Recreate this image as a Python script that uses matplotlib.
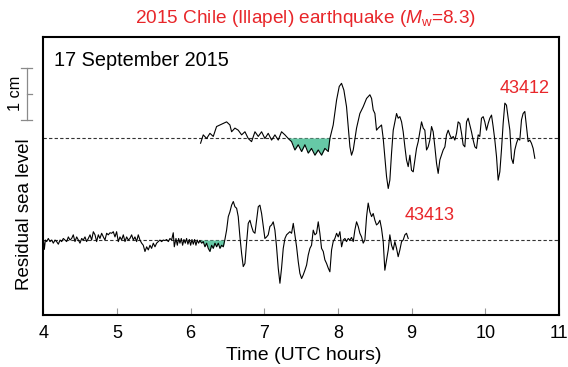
import numpy as np
import matplotlib
matplotlib.use('Agg')
import matplotlib.pyplot as plt
import matplotlib.transforms as mtransforms

plt.rcParams['font.family'] = ['Liberation Sans', 'DejaVu Sans']
plt.rcParams['mathtext.fontset'] = 'custom'
plt.rcParams['mathtext.rm'] = 'Liberation Sans'
plt.rcParams['mathtext.it'] = 'Liberation Sans:italic'

# residual sea level (cm) at DART 43412, hours UTC
top_time = [6.135, 6.171, 6.217, 6.262, 6.307, 6.352, 6.398, 6.443, 6.488, 6.533,
            6.556, 6.601, 6.646, 6.692, 6.737, 6.782, 6.827, 6.873, 6.918, 6.963,
            7.008, 7.053, 7.099, 7.144, 7.189, 7.234, 7.280, 7.325, 7.370, 7.415,
            7.460, 7.506, 7.551, 7.596, 7.641, 7.687, 7.732, 7.777, 7.822, 7.868,
            7.890, 7.935, 7.981, 8.017, 8.048, 8.080, 8.116, 8.139, 8.162, 8.184,
            8.207, 8.252, 8.297, 8.342, 8.388, 8.433, 8.456, 8.478, 8.501, 8.523,
            8.546, 8.569, 8.591, 8.614, 8.636, 8.659, 8.682, 8.704, 8.727, 8.750,
            8.772, 8.795, 8.817, 8.840, 8.863, 8.885, 8.908, 8.930, 8.953, 8.976,
            8.998, 9.021, 9.044, 9.066, 9.089, 9.111, 9.134, 9.157, 9.179, 9.202,
            9.224, 9.247, 9.270, 9.292, 9.315, 9.338, 9.360, 9.383, 9.405, 9.428,
            9.451, 9.473, 9.496, 9.518, 9.541, 9.564, 9.586, 9.609, 9.631, 9.654,
            9.677, 9.699, 9.722, 9.745, 9.767, 9.790, 9.812, 9.835, 9.858, 9.880,
            9.903, 9.925, 9.948, 9.971, 9.993, 10.016, 10.039, 10.061, 10.084, 10.106,
            10.129, 10.152, 10.174, 10.197, 10.219, 10.242, 10.265, 10.287, 10.310, 10.333,
            10.355, 10.378, 10.400, 10.423, 10.446, 10.468, 10.491, 10.513, 10.536, 10.559,
            10.581, 10.604, 10.626, 10.649, 10.672]
top_level = [-0.10, 0.06, -0.01, 0.09, 0.03, 0.22, 0.25, 0.28, 0.31, 0.25,
             0.12, 0.19, 0.15, 0.06, 0.12, -0.01, -0.07, 0.12, 0.03, 0.12,
             -0.01, 0.09, -0.04, 0.06, -0.04, 0.12, 0.06, -0.01, -0.07, -0.23,
             -0.13, -0.26, -0.13, -0.29, -0.20, -0.33, -0.23, -0.33, -0.20, -0.26,
             -0.01, 0.25, 0.73, 0.99, 1.05, 0.92, 0.60, 0.22, -0.17, -0.33,
             -0.23, 0.19, 0.47, 0.60, 0.76, 0.83, 0.76, 0.54, 0.47, 0.15,
             0.19, 0.22, 0.25, -0.01, -0.36, -0.74, -0.97, -0.81, -0.29, 0.15,
             0.31, 0.47, 0.38, 0.41, 0.31, 0.12, -0.17, -0.42, -0.55, -0.33,
             -0.62, -0.65, -0.42, -0.20, -0.07, 0.12, 0.31, 0.19, 0.15, -0.23,
             -0.17, -0.04, 0.22, 0.12, -0.17, -0.49, -0.68, -0.42, -0.33, -0.23,
             -0.17, 0.06, 0.15, 0.06, -0.01, 0.03, -0.04, 0.09, 0.31, 0.28,
             0.09, -0.13, -0.17, 0.31, 0.38, 0.25, 0.12, -0.04, -0.17, -0.20,
             0.06, 0.03, 0.38, 0.41, 0.31, 0.15, 0.28, 0.38, 0.44, 0.22,
             -0.04, -0.36, -0.81, -0.65, -0.23, 0.28, 0.67, 0.63, 0.38, 0.15,
             -0.39, -0.49, -0.23, -0.10, -0.01, -0.04, 0.35, 0.47, 0.51, 0.22,
             -0.07, -0.04, -0.10, -0.20, -0.39]

# residual sea level (cm) at DART 43413, hours UTC
bot_time = [4.000, 4.014, 4.028, 4.046, 4.068, 4.091, 4.114, 4.136, 4.159, 4.181,
            4.204, 4.227, 4.249, 4.272, 4.294, 4.317, 4.340, 4.362, 4.385, 4.407,
            4.430, 4.453, 4.475, 4.498, 4.521, 4.543, 4.566, 4.588, 4.611, 4.634,
            4.656, 4.679, 4.702, 4.724, 4.747, 4.769, 4.792, 4.815, 4.837, 4.860,
            4.882, 4.905, 4.928, 4.950, 4.973, 4.995, 5.018, 5.041, 5.063, 5.086,
            5.109, 5.131, 5.154, 5.176, 5.199, 5.222, 5.244, 5.267, 5.289, 5.312,
            5.335, 5.357, 5.380, 5.403, 5.425, 5.448, 5.470, 5.493, 5.516, 5.538,
            5.561, 5.583, 5.606, 5.629, 5.651, 5.674, 5.697, 5.719, 5.742, 5.764,
            5.778, 5.801, 5.819, 5.837, 5.855, 5.873, 5.891, 5.909, 5.927, 5.945,
            5.963, 5.982, 6.000, 6.018, 6.036, 6.054, 6.072, 6.090, 6.108, 6.126,
            6.149, 6.171, 6.194, 6.217, 6.239, 6.262, 6.285, 6.307, 6.330, 6.352,
            6.375, 6.398, 6.420, 6.443, 6.465, 6.488, 6.511, 6.533, 6.556, 6.579,
            6.601, 6.624, 6.646, 6.669, 6.692, 6.714, 6.737, 6.759, 6.782, 6.805,
            6.827, 6.850, 6.873, 6.895, 6.918, 6.940, 6.963, 6.986, 7.008, 7.031,
            7.053, 7.076, 7.099, 7.121, 7.144, 7.166, 7.189, 7.212, 7.234, 7.257,
            7.280, 7.302, 7.325, 7.347, 7.370, 7.393, 7.415, 7.438, 7.461, 7.483,
            7.506, 7.528, 7.551, 7.574, 7.596, 7.619, 7.641, 7.664, 7.687, 7.709,
            7.732, 7.754, 7.777, 7.800, 7.822, 7.845, 7.868, 7.890, 7.913, 7.935,
            7.958, 7.981, 8.003, 8.026, 8.049, 8.071, 8.094, 8.116, 8.139, 8.162,
            8.184, 8.207, 8.229, 8.252, 8.275, 8.297, 8.320, 8.342, 8.365, 8.388,
            8.410, 8.433, 8.456, 8.478, 8.501, 8.523, 8.546, 8.569, 8.591, 8.614,
            8.636, 8.659, 8.682, 8.704, 8.727, 8.749, 8.772, 8.795, 8.817, 8.840,
            8.863, 8.885, 8.908, 8.930, 8.953]
bot_level = [0.03, -0.18, 0.00, -0.03, 0.03, -0.03, 0.00, -0.06, 0.00, -0.03,
             -0.08, 0.00, -0.03, 0.03, 0.00, -0.03, 0.06, 0.00, 0.03, 0.10,
             -0.03, 0.06, 0.00, -0.06, 0.03, 0.00, 0.06, -0.03, 0.03, 0.10,
             0.00, 0.16, 0.10, -0.03, 0.10, 0.03, 0.13, 0.06, 0.00, 0.13,
             0.10, 0.14, 0.13, 0.16, 0.06, 0.16, -0.03, 0.06, 0.00, 0.10,
             -0.03, 0.06, 0.00, 0.03, 0.10, 0.00, 0.06, -0.03, 0.10, 0.00,
             -0.06, -0.10, -0.22, -0.13, -0.19, -0.10, -0.16, -0.06, -0.13, -0.06,
             -0.03, 0.00, -0.03, 0.00, -0.01, 0.01, -0.03, 0.03, 0.00, 0.14,
             -0.13, 0.03, -0.10, 0.03, -0.06, 0.03, -0.10, 0.01, -0.06, 0.03,
             -0.08, 0.01, -0.10, 0.01, -0.08, 0.01, -0.10, 0.00, -0.06, -0.01,
             -0.06, -0.03, -0.13, -0.06, -0.16, -0.22, -0.10, -0.16, -0.06, -0.13,
             -0.06, -0.16, -0.10, -0.13, 0.01, 0.19, 0.45, 0.54, 0.67, 0.74,
             0.64, 0.61, 0.45, 0.06, -0.26, -0.51, -0.45, -0.06, 0.32, 0.38,
             0.26, 0.16, 0.13, 0.38, 0.64, 0.67, 0.51, 0.26, 0.03, 0.06,
             0.10, 0.26, 0.29, 0.35, 0.19, -0.13, -0.54, -0.83, -0.54, -0.16,
             0.03, 0.10, 0.13, 0.16, 0.13, 0.32, 0.10, -0.13, -0.42, -0.64,
             -0.74, -0.67, -0.58, -0.48, -0.29, -0.16, -0.10, 0.19, 0.10, 0.13,
             0.35, 0.13, -0.16, -0.22, -0.38, -0.45, -0.54, -0.61, -0.19, -0.03,
             0.03, 0.13, 0.06, 0.16, -0.13, 0.00, 0.03, -0.03, 0.03, 0.00,
             0.05, -0.03, 0.19, 0.35, 0.26, 0.13, 0.06, -0.06, 0.00, 0.45,
             0.71, 0.54, 0.45, 0.51, 0.38, 0.29, 0.32, 0.38, 0.22, -0.03,
             -0.58, -0.38, -0.19, 0.10, -0.10, -0.19, -0.03, -0.16, -0.32, -0.19,
             -0.03, 0.00, 0.10, 0.13, 0.03]

# first negative phase (shaded) for each station
top_fill = (7.325, 7.890)
bot_fill = (6.126, 6.465)

top_offset = 1.96
bot_offset = 0.0
shade = '#66c9a6'
red = '#e8262a'

W, H = 568, 367
fig = plt.figure(figsize=(W / 100, H / 100), dpi=100)
ax = fig.add_axes([43.3 / W, 1 - 315 / H, 515.7 / W, 278 / H])

for t, v, off, win in [(top_time, top_level, top_offset, top_fill),
                       (bot_time, bot_level, bot_offset, bot_fill)]:
    t = np.array(t)
    y = np.array(v) + off
    ax.axhline(off, color='#333333', lw=0.8, ls=(0, (3, 2)), zorder=1)
    mask = (t >= win[0]) & (t <= win[1])
    ax.fill_between(t, y, off, where=mask & (y <= off), interpolate=True,
                    color=shade, lw=0, zorder=2)
    ax.plot(t, y, color='black', lw=0.8, zorder=3)

ax.set_xlim(4, 11)
ax.set_ylim(-1.44, 3.90)
ax.set_xticks(range(4, 12))
ax.set_yticks([])
ax.tick_params(axis='x', direction='in', length=5, color='#999999',
               labelsize=13, pad=7)
for s in ax.spines.values():
    s.set_linewidth(1.5)

fig.text(304 / W, 1 - 355 / H, 'Time (UTC hours)', fontsize=14,
         ha='center', va='center')
fig.text(54 / W, 1 - 60 / H, '17 September 2015', fontsize=14.3,
         ha='left', va='center')
ax.text(10.536, 2.92, '43412', color=red, fontsize=13, ha='center', va='center')
ax.text(9.247, 0.48, '43413', color=red, fontsize=13, ha='center', va='center')

fig.text(306 / W, 1 - 18.5 / H, r'2015 Chile (Illapel) earthquake ($M_\mathrm{w}$=8.3)',
         color=red, fontsize=13.7, ha='center', va='center')

# 1 cm scale bar left of the axes
trans = mtransforms.blended_transform_factory(fig.transFigure, ax.transData)
bx = 26.7 / W
cap = 5.3 / W
y0, y1 = 2.31, 3.30
bar = dict(color='#8a8a8a', lw=0.9, transform=trans, clip_on=False)
ax.plot([bx, bx], [y0, y1], **bar)
for yy in (y0, y1):
    ax.plot([bx - cap, bx + cap], [yy, yy], **bar)
ax.plot([bx, bx + cap], [(y0 + y1) / 2] * 2, **bar)
fig.text(15 / W, 1 - 93 / H, '1 cm', rotation=90, fontsize=11.7,
         ha='center', va='center')
fig.text(25 / W, 1 - 214 / H, 'Residual sea level', rotation=90,
         fontsize=13.5, ha='center', va='center')

fig.savefig('out.png', dpi=100)
